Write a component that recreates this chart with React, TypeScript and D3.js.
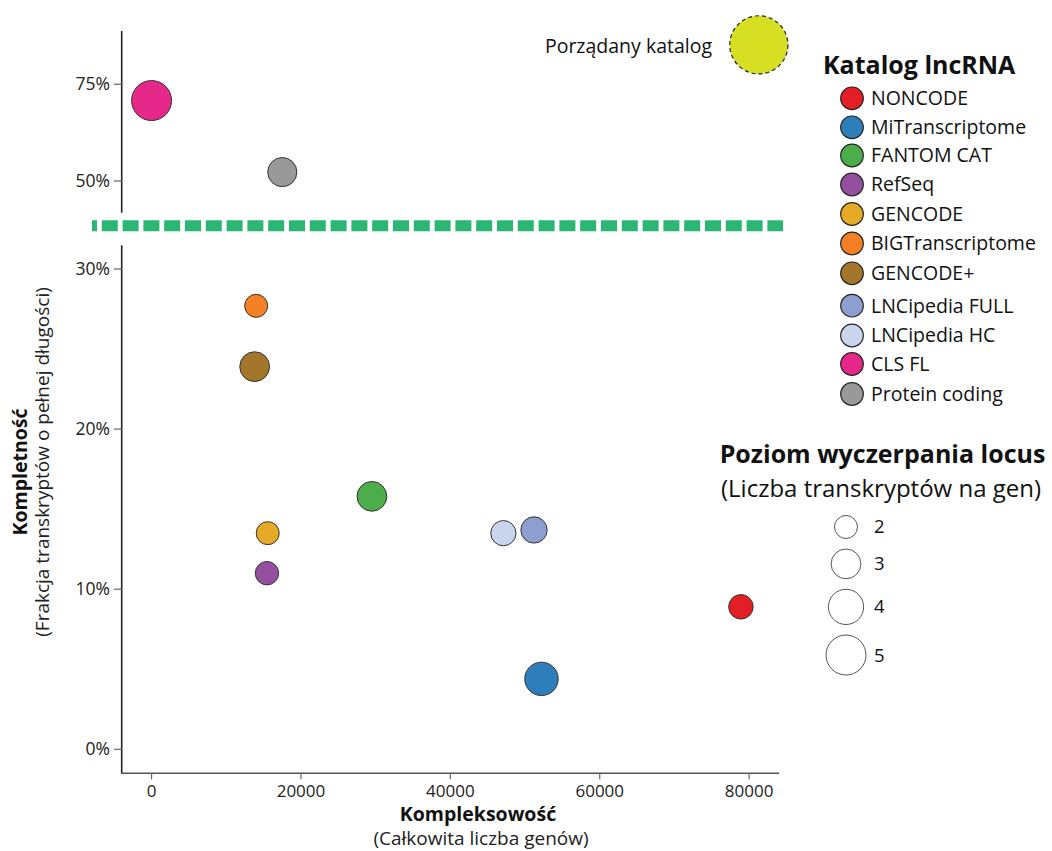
import React from "react";
import * as d3 from "d3";

// lncRNA catalogues: number of genes, fraction of full-length transcripts, transcripts per gene
const catalogs = [
  "NONCODE",
  "MiTranscriptome",
  "FANTOM CAT",
  "RefSeq",
  "GENCODE",
  "BIGTranscriptome",
  "GENCODE+",
  "LNCipedia FULL",
  "LNCipedia HC",
  "CLS FL",
  "Protein coding",
];
const geneCounts = [78900, 52200, 29500, 15450, 15550, 14000, 13800, 51200, 47100, 0, 17500];
const completeness = [8.9, 4.4, 15.8, 11.0, 13.5, 27.7, 23.9, 13.7, 13.5, 70.8, 52.3];
const transcriptsPerGene = [2.2, 3.65, 3.0, 2.05, 2.0, 2.0, 3.0, 2.45, 2.3, 5.0, 2.9];
const catalogColors = [
  "#e31e24",
  "#2e7ebc",
  "#4bae4a",
  "#954f9f",
  "#e5aa26",
  "#f58025",
  "#a3762c",
  "#8c9fcf",
  "#c9d5ec",
  "#e5288a",
  "#999999",
];

// the ideal catalogue, drawn as a dashed target bubble
const idealLabel = "Porządany katalog";
const idealGenes = 81300;
const idealCompleteness = 85.2;
const idealTranscripts = 10;

const xTicks = [0, 20000, 40000, 60000, 80000];
const lowerTicks = [0, 10, 20, 30];
const upperTicks = [50, 75];
const sizeLegendValues = [2, 3, 4, 5];

const FONT = "'Open Sans', 'Noto Sans', sans-serif";

export default function App() {
  const width = 1052;
  const height = 851;

  const x = d3.scaleLinear().domain([-4000, 84000]).range([121.7, 779]);
  const yLow = d3.scaleLinear().domain([0, 30]).range([749.3, 269]);
  const yHigh = d3.scaleLinear().domain([50, 75]).range([181, 84.3]);
  const r = d3.scaleRadial().domain([2, 5]).range([11.5, 20]);
  const yOf = (v: number) => (v >= 40 ? yHigh(v) : yLow(v));

  const points = catalogs.map((name, i) => ({
    name,
    gx: geneCounts[i],
    cy: completeness[i],
    tpg: transcriptsPerGene[i],
    color: catalogColors[i],
  }));

  // size legend: stack circles with a constant gap between them
  const sizeLegend: { v: number; y: number; rad: number }[] = [];
  let yPrev = 527;
  let rPrev = 0;
  sizeLegendValues.forEach((v, i) => {
    const rad = r(v);
    const y = i === 0 ? yPrev : yPrev + rPrev + rad + 10.5;
    sizeLegend.push({ v, y, rad });
    yPrev = y;
    rPrev = rad;
  });

  const legendRows = [98.3, 127.3, 155.5, 184.5, 214, 243.5, 273.3, 305.7, 335.5, 364, 394];

  const axisColor = "#222";
  const tickColor = "#666";

  return (
    <svg width={width} height={height} style={{ display: "block", position: "absolute", left: 0, top: 0 }} fontFamily={FONT}>
      <rect width={width} height={height} fill="#fff" />

      {/* break marker between the two y panels */}
      <line
        x1={92}
        x2={783}
        y1={225.7}
        y2={225.7}
        stroke="#2bb673"
        strokeWidth={11}
        strokeDasharray="16 4.8"
        strokeDashoffset={11}
      />

      {/* upper y axis */}
      <line x1={121.7} x2={121.7} y1={31} y2={212.7} stroke={axisColor} strokeWidth={1.6} />
      {upperTicks.map((t) => (
        <g key={"u" + t} transform={`translate(0,${yHigh(t)})`}>
          <line x1={114} x2={121.7} stroke={tickColor} strokeWidth={1.2} />
          <text x={110} dy="0.35em" textAnchor="end" fontSize={17.5} fill="#222">
            {t}%
          </text>
        </g>
      ))}

      {/* lower y axis */}
      <line x1={121.7} x2={121.7} y1={245.3} y2={773.3} stroke={axisColor} strokeWidth={1.6} />
      {lowerTicks.map((t) => (
        <g key={"l" + t} transform={`translate(0,${yLow(t)})`}>
          <line x1={114} x2={121.7} stroke={tickColor} strokeWidth={1.2} />
          <text x={110} dy="0.35em" textAnchor="end" fontSize={17.5} fill="#222">
            {t}%
          </text>
        </g>
      ))}

      {/* x axis */}
      <line x1={121} x2={779} y1={773.3} y2={773.3} stroke="#555" strokeWidth={1.6} />
      {xTicks.map((t) => (
        <g key={"x" + t} transform={`translate(${x(t)},773.3)`}>
          <line y1={0} y2={6} stroke={tickColor} strokeWidth={1.2} />
          <text y={24} textAnchor="middle" fontSize={17} fill="#222">
            {t}
          </text>
        </g>
      ))}

      {/* axis titles */}
      <text x={478} y={821} textAnchor="middle" fontSize={19.5} fontWeight="bold" fill="#111">
        Kompleksowość
      </text>
      <text x={481} y={845} textAnchor="middle" fontSize={19} fill="#222">
        (Całkowita liczba genów)
      </text>
      <text transform="translate(27,472) rotate(-90)" textAnchor="middle" fontSize={19.5} fontWeight="bold" fill="#111">
        Kompletność
      </text>
      <text transform="translate(49,462) rotate(-90)" textAnchor="middle" fontSize={19} fill="#222">
        (Frakcja transkryptów o pełnej długości)
      </text>

      {/* catalogue bubbles */}
      {points.map((p) => (
        <circle
          key={p.name}
          cx={x(p.gx)}
          cy={yOf(p.cy)}
          r={r(p.tpg)}
          fill={p.color}
          stroke="#333"
          strokeWidth={1}
        />
      ))}

      {/* ideal catalogue */}
      <circle
        cx={x(idealGenes)}
        cy={yHigh(idealCompleteness)}
        r={r(idealTranscripts)}
        fill="#d7df23"
        stroke="#222"
        strokeWidth={1.2}
        strokeDasharray="4 3"
      />
      <text x={712} y={53} textAnchor="end" fontSize={19.5} fill="#111">
        {idealLabel}
      </text>

      {/* colour legend */}
      <text x={823} y={74} fontSize={25} fontWeight="bold" fill="#111">
        Katalog lncRNA
      </text>
      {points.map((p, i) => (
        <g key={"leg" + p.name} transform={`translate(852,${legendRows[i]})`}>
          <circle r={11.3} fill={p.color} stroke="#222" strokeWidth={1.2} />
          <text x={19} dy="0.35em" fontSize={19.5} fill="#111">
            {p.name}
          </text>
        </g>
      ))}

      {/* size legend */}
      <text x={882.5} y={463} textAnchor="middle" fontSize={25} fontWeight="bold" fill="#111">
        Poziom wyczerpania locus
      </text>
      <text x={881} y={497} textAnchor="middle" fontSize={24} fill="#111">
        (Liczba transkryptów na gen)
      </text>
      {sizeLegend.map((s) => (
        <g key={"s" + s.v} transform={`translate(846,${s.y})`}>
          <circle r={s.rad} fill="#fff" stroke="#555" strokeWidth={1} />
          <text x={28} dy="0.35em" fontSize={18.5} fill="#111">
            {s.v}
          </text>
        </g>
      ))}
    </svg>
  );
}
